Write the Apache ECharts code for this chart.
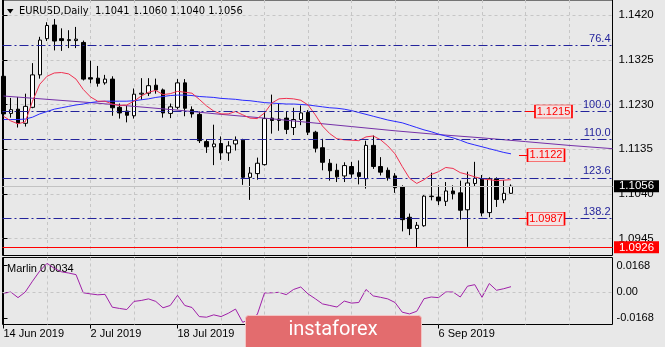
<!DOCTYPE html>
<html>
<head>
<meta charset="utf-8">
<script src="https://cdn.jsdelivr.net/npm/echarts@6/dist/echarts.min.js"></script>
<style>
  html, body { margin: 0; padding: 0; background: #e8e8e8; }
  #chart { width: 665px; height: 347px; }
</style>
</head>
<body>
<div id="chart"></div>
<script>
// ---- EURUSD daily bars, 14 Jun 2019 onwards ----
const symbolName = 'EURUSD,Daily';

const opens = [
  1.1290, 1.1211, 1.1220, 1.1190, 1.1224, 1.1293, 1.1370, 1.1399, 1.1370, 1.1366,
  1.1366, 1.1362, 1.1287, 1.1286, 1.1276, 1.1284, 1.1224, 1.1216, 1.1206, 1.1252,
  1.1254, 1.1271, 1.1261, 1.1211, 1.1224, 1.1276, 1.1219, 1.1209, 1.1151, 1.1140,
  1.1147, 1.1127, 1.1146, 1.1154, 1.1075, 1.1083, 1.1102, 1.1201, 1.1196, 1.1201,
  1.1181, 1.1198, 1.1213, 1.1171, 1.1138, 1.1105, 1.1090, 1.1078, 1.1098, 1.1085,
  1.1072, 1.1143, 1.1098, 1.1090, 1.1078, 1.1055, 1.0990, 1.0966, 1.0972, 1.1034,
  1.1033, 1.1024, 1.1046, 1.1042, 1.1006, 1.1062, 1.1072, 1.1000, 1.1072, 1.1027,
  1.1041
];
const highs = [
  1.1295, 1.1244, 1.1246, 1.1253, 1.1318, 1.1374, 1.1405, 1.1412, 1.1392, 1.1388,
  1.1395, 1.1366, 1.1323, 1.1312, 1.1293, 1.1290, 1.1232, 1.1228, 1.1264, 1.1286,
  1.1286, 1.1285, 1.1264, 1.1232, 1.1284, 1.1284, 1.1226, 1.1215, 1.1156, 1.1187,
  1.1162, 1.1152, 1.1162, 1.1157, 1.1097, 1.1117, 1.1214, 1.1251, 1.1233, 1.1216,
  1.1223, 1.1228, 1.1218, 1.1174, 1.1157, 1.1114, 1.1104, 1.1107, 1.1108, 1.1111,
  1.1153, 1.1164, 1.1118, 1.1096, 1.1084, 1.1058, 1.0998, 1.0980, 1.1037, 1.1085,
  1.1058, 1.1065, 1.1058, 1.1068, 1.1087, 1.1108, 1.1080, 1.1075, 1.1075, 1.1069,
  1.1060
];
const lows = [
  1.1203, 1.1202, 1.1181, 1.1183, 1.1222, 1.1285, 1.1365, 1.1345, 1.1344, 1.1350,
  1.1350, 1.1281, 1.1275, 1.1268, 1.1272, 1.1206, 1.1200, 1.1192, 1.1200, 1.1240,
  1.1248, 1.1253, 1.1202, 1.1201, 1.1220, 1.1205, 1.1202, 1.1148, 1.1127, 1.1101,
  1.1112, 1.1110, 1.1132, 1.1059, 1.1027, 1.1070, 1.1100, 1.1168, 1.1174, 1.1167,
  1.1165, 1.1186, 1.1165, 1.1128, 1.1090, 1.1068, 1.1065, 1.1065, 1.1074, 1.1060,
  1.1051, 1.1093, 1.1079, 1.1068, 1.1042, 1.0960, 1.0952, 1.0926, 1.0970, 1.1026,
  1.1016, 1.1014, 1.1028, 1.0985, 1.0927, 1.1055, 1.0992, 1.0990, 1.1012, 1.1020,
  1.1040
];
const closes = [
  1.1210, 1.1219, 1.1190, 1.1226, 1.1293, 1.1367, 1.1398, 1.1365, 1.1366, 1.1368,
  1.1369, 1.1284, 1.1284, 1.1275, 1.1284, 1.1223, 1.1212, 1.1207, 1.1252, 1.1254,
  1.1270, 1.1261, 1.1212, 1.1225, 1.1276, 1.1222, 1.1210, 1.1153, 1.1140, 1.1146,
  1.1127, 1.1142, 1.1154, 1.1075, 1.1084, 1.1105, 1.1200, 1.1196, 1.1199, 1.1177,
  1.1198, 1.1212, 1.1171, 1.1137, 1.1107, 1.1089, 1.1076, 1.1100, 1.1082, 1.1077,
  1.1143, 1.1098, 1.1086, 1.1074, 1.1053, 1.0985, 1.0966, 1.0973, 1.1035, 1.1035,
  1.1025, 1.1046, 1.1040, 1.1005, 1.1063, 1.1073, 1.0999, 1.1072, 1.1028, 1.1041,
  1.1056
];

// moving averages (red fast, blue medium) per bar
const maFast = [
  1.1205, 1.1195, 1.1189, 1.1193, 1.1237, 1.1273, 1.1290, 1.1297, 1.1298, 1.1295,
  1.1284, 1.1262, 1.1246, 1.1237, 1.1237, 1.1231, 1.1228, 1.1229, 1.1237, 1.1248,
  1.1256, 1.1260, 1.1251, 1.1253, 1.1258, 1.1256, 1.1254, 1.1241, 1.1227, 1.1216,
  1.1210, 1.1210, 1.1215, 1.1208, 1.1201, 1.1200, 1.1212, 1.1233, 1.1242, 1.1243,
  1.1242, 1.1239, 1.1229, 1.1208, 1.1184, 1.1168, 1.1157, 1.1155, 1.1154, 1.1153,
  1.1161, 1.1163, 1.1155, 1.1142, 1.1125, 1.1098, 1.1073, 1.1062, 1.1070, 1.1081,
  1.1087, 1.1096, 1.1094, 1.1085, 1.1081, 1.1076, 1.1072, 1.1070, 1.1068, 1.1069,
  1.1070
];
const maMid = [
  1.1198, 1.1198, 1.1198, 1.1199, 1.1203, 1.1210, 1.1215, 1.1220, 1.1223, 1.1226,
  1.1229, 1.1231, 1.1234, 1.1236, 1.1237, 1.1237, 1.1237, 1.1237, 1.1238, 1.1240,
  1.1242, 1.1245, 1.1247, 1.1249, 1.1250, 1.1250, 1.1249, 1.1247, 1.1246, 1.1245,
  1.1243, 1.1242, 1.1241, 1.1239, 1.1238, 1.1236, 1.1234, 1.1233, 1.1232, 1.1231,
  1.1231, 1.1230, 1.1229, 1.1227, 1.1225, 1.1223, 1.1222, 1.1220, 1.1217, 1.1213,
  1.1209, 1.1205, 1.1201, 1.1197, 1.1194, 1.1191, 1.1186, 1.1181, 1.1176, 1.1172,
  1.1167, 1.1163, 1.1159, 1.1154, 1.1148, 1.1144, 1.1140, 1.1136, 1.1132, 1.1128,
  1.1125
];
// purple slow average, shifted forward past the last bar
const maSlowBars   = [0, 6, 12, 18, 24, 30, 36, 42, 48, 54, 60, 66, 72, 78, 84];
const maSlowValues = [1.1248, 1.1241, 1.1234, 1.1226, 1.1218, 1.1209, 1.1201, 1.1192,
                      1.1183, 1.1174, 1.1166, 1.1159, 1.1151, 1.1143, 1.1136];

// Marlin oscillator
const marlin = [
  -0.0008, 0.0000, -0.0036, 0.0000, 0.0069, 0.0134, 0.0183, 0.0151, 0.0129, 0.0121,
   0.0111, -0.0005, -0.0012, -0.0018, -0.0015, -0.0097, -0.0105, -0.0112, -0.0060, -0.0054,
  -0.0044, -0.0060, -0.0101, -0.0086, -0.0021, -0.0086, -0.0099, -0.0157, -0.0161, -0.0146,
  -0.0157, -0.0136, -0.0109, -0.0194, -0.0170, -0.0144, -0.0006, -0.0005, -0.0002, -0.0017,
   0.0016, 0.0032, -0.0012, -0.0043, -0.0076, -0.0086, -0.0096, -0.0058, -0.0071, -0.0067,
   0.0016, -0.0025, -0.0034, -0.0044, -0.0067, -0.0129, -0.0140, -0.0123, -0.0043, -0.0032,
  -0.0036, 0.0000, 0.0000, -0.0032, 0.0037, 0.0047, -0.0034, 0.0054, 0.0011, 0.0021,
   0.0034
];

// axis labels
const dateLabels    = ['14 Jun 2019', '2 Jul 2019', '18 Jul 2019', '6 Sep 2019'];
const dateLabelBars = [0, 12, 24, 60];
const priceTicks    = [1.0945, 1.1040, 1.1135, 1.1230, 1.1325, 1.1420];
const marlinTicks   = [-0.0168, 0, 0.0168];

// Fibonacci levels and price tags
const fibNames  = ['76.4', '100.0', '110.0', '123.6', '138.2'];
const fibPrices = [1.1356, 1.1215, 1.1155, 1.1074, 1.0987];
const tagPrices = [1.1215, 1.1122, 1.0987];
const supportPrice = 1.0926;

// ---- layout ----
const FONT = '"Liberation Sans", Arial, sans-serif';
const X_MIN = -0.138, X_MAX = 84;
const Y_MAX = 1.14523, Y_MIN = 1.090871;
const M_MAX = 0.022038, M_MIN = -0.02076;
const gridBars = [6, 12, 18, 24, 30, 36, 42, 48, 54, 60, 66, 72, 78];
const gridLine = { color: '#c6c6c6', type: [3, 3], width: 1 };
const fibColor = '#24249c';

const last = closes.length - 1;
const lastClose = closes[last];
const titleText = symbolName + '  ' +
  [opens[last], highs[last], lows[last], closes[last]].map(v => v.toFixed(4)).join(' ');

const candleData = opens.map((o, i) => [i, o, closes[i], lows[i], highs[i]]);

// full-width horizontal level from one price
function level(p, lineStyle, label) {
  return [
    { coord: [X_MIN, p], lineStyle: lineStyle, label: label || { show: false } },
    { coord: [X_MAX, p] }
  ];
}

// tag placement: [lead-in start, lead-in end, box centre] in bar units
const tagSpots = [[71.93, 73.31, 75.86], [71.1, 72.35, 74.83], [71.1, 72.35, 74.83]];
const redSolid = { color: '#ff0000', type: 'solid', width: 1 };

const levelLines = [
  level(lastClose, { color: '#c2c2c2', type: 'solid', width: 1 }),
  ...fibPrices.map((p, k) => level(p,
    { color: fibColor, type: [9, 3, 2, 3], width: 1 },
    { show: true, position: 'insideEndTop', formatter: fibNames[k], color: fibColor,
      fontSize: 11, fontFamily: FONT, distance: [2, 1] })),
  level(supportPrice, redSolid),
  ...tagPrices.map((p, k) => [
    { coord: [tagSpots[k][0], p], lineStyle: redSolid, label: { show: false } },
    { coord: [tagSpots[k][1], p] }
  ])
];

const chart = echarts.init(document.getElementById('chart'), null, { width: 665, height: 347 });

chart.setOption({
  animation: false,
  backgroundColor: '#e8e8e8',
  grid: [
    { left: 2.5, right: 52.5, top: -2, height: 257.5, show: true, borderColor: '#000', borderWidth: 1, backgroundColor: 'transparent' },
    { left: 2.5, right: 52.5, top: 257.5, height: 67, show: true, borderColor: '#000', borderWidth: 1, backgroundColor: 'transparent' }
  ],
  xAxis: [
    {
      type: 'value', gridIndex: 0, min: X_MIN, max: X_MAX,
      axisLine: { show: false }, axisTick: { show: false, customValues: gridBars },
      axisLabel: { show: false }, splitLine: { show: true, lineStyle: gridLine }
    },
    {
      type: 'value', gridIndex: 1, min: X_MIN, max: X_MAX,
      axisLine: { show: false }, axisTick: { show: false, customValues: gridBars },
      axisLabel: { show: false }, splitLine: { show: true, lineStyle: gridLine }
    },
    {
      type: 'value', gridIndex: 1, min: X_MIN, max: X_MAX, position: 'bottom',
      axisLine: { show: false },
      axisTick: { show: true, customValues: dateLabelBars, length: 4, lineStyle: { color: '#000' } },
      axisLabel: {
        customValues: dateLabelBars, align: 'left', margin: 4,
        fontSize: 11, fontFamily: FONT, color: '#000',
        formatter: v => dateLabels[dateLabelBars.indexOf(v)]
      },
      splitLine: { show: false }
    }
  ],
  yAxis: [
    {
      type: 'value', gridIndex: 0, position: 'right', min: Y_MIN, max: Y_MAX,
      axisLine: { show: true, lineStyle: { color: '#000' } },
      axisTick: { show: true, customValues: priceTicks, length: 4, lineStyle: { color: '#000' } },
      axisLabel: {
        customValues: priceTicks, margin: 6, fontSize: 11.5, fontFamily: FONT, color: '#000',
        formatter: v => v.toFixed(4)
      },
      splitLine: { show: true, lineStyle: gridLine }
    },
    {
      type: 'value', gridIndex: 1, position: 'right', min: M_MIN, max: M_MAX,
      axisLine: { show: true, lineStyle: { color: '#000' } },
      axisTick: { show: true, customValues: marlinTicks, length: 4, lineStyle: { color: '#000' } },
      axisLabel: {
        customValues: marlinTicks, margin: 4, fontSize: 11, fontFamily: FONT, color: '#000',
        formatter: v => (v === 0 ? '0.00' : v.toFixed(4))
      },
      splitLine: { show: false }
    }
  ],
  series: [
    {
      type: 'candlestick', xAxisIndex: 0, yAxisIndex: 0,
      data: candleData, encode: { x: 0, y: [1, 2, 3, 4] },
      barWidth: 4,
      itemStyle: { color: '#ffffff', color0: '#000000', borderColor: '#000000', borderColor0: '#000000', borderWidth: 1 },
      z: 2,
      markPoint: {
        silent: true, animation: false,
        data: [
          ...tagPrices.map((p, k) => ({
            coord: [tagSpots[k][2], p], value: p,
            symbol: 'rect', symbolSize: [37, 13],
            itemStyle: { color: '#f2e3e3', borderColor: '#ff0000', borderWidth: 1 },
            label: { show: true, position: 'inside', formatter: p.toFixed(4), color: '#ff0000', fontSize: 11, fontFamily: FONT }
          })),
          {
            coord: [X_MAX, lastClose], value: lastClose,
            symbol: 'rect', symbolSize: [45, 12], symbolOffset: [24, 0],
            itemStyle: { color: '#000000' },
            label: { show: true, position: 'inside', formatter: lastClose.toFixed(4), color: '#ffffff', fontSize: 11.5, fontFamily: FONT }
          },
          {
            coord: [X_MAX, supportPrice], value: supportPrice,
            symbol: 'rect', symbolSize: [45, 12], symbolOffset: [24, 0],
            itemStyle: { color: '#ff0000' },
            label: { show: true, position: 'inside', formatter: supportPrice.toFixed(4), color: '#ffffff', fontSize: 11.5, fontFamily: FONT }
          }
        ]
      }
    },
    {
      type: 'line', xAxisIndex: 0, yAxisIndex: 0, z: 3,
      data: maSlowValues.map((v, k) => [maSlowBars[k], v]),
      showSymbol: false, symbol: 'none', lineStyle: { color: '#7530a8', width: 1 },
      markLine: { silent: true, symbol: ['none', 'none'], animation: false, data: levelLines }
    },
    {
      type: 'line', xAxisIndex: 0, yAxisIndex: 0, z: 3,
      data: maMid.map((v, i) => [i, v]),
      showSymbol: false, symbol: 'none', lineStyle: { color: '#2a2aff', width: 1 }
    },
    {
      type: 'line', xAxisIndex: 0, yAxisIndex: 0, z: 3,
      data: maFast.map((v, i) => [i, v]),
      showSymbol: false, symbol: 'none', lineStyle: { color: '#f03050', width: 1 }
    },
    {
      type: 'line', xAxisIndex: 1, yAxisIndex: 1, z: 3,
      data: marlin.map((v, i) => [i, v]),
      showSymbol: false, symbol: 'none', lineStyle: { color: '#a020a8', width: 1 },
      markLine: {
        silent: true, symbol: ['none', 'none'], animation: false,
        data: [[
          { coord: [X_MIN, 0], lineStyle: { color: '#c6c6c6', type: [3, 3], width: 1 }, label: { show: false } },
          { coord: [X_MAX, 0] }
        ]]
      }
    }
  ],
  graphic: [
    { type: 'polygon', shape: { points: [[7, 9], [13.5, 9], [10.25, 13.5]] }, style: { fill: '#000' } },
    {
      type: 'text', x: 19, y: 11,
      style: { text: titleText, font: '11px "DejaVu Sans Condensed", "Liberation Sans", sans-serif', fill: '#000', verticalAlign: 'middle' }
    },
    {
      type: 'text', x: 7, y: 268.5,
      style: { text: 'Marlin ' + marlin[marlin.length - 1].toFixed(4), font: '11px ' + FONT, fill: '#000', verticalAlign: 'middle' }
    },
    {
      type: 'rect', z: 100,
      shape: { x: 245.5, y: 315.5, width: 176, height: 40, r: 3 },
      style: { fill: '#e36c6e', stroke: '#f3c4c4', lineWidth: 1 }
    },
    {
      type: 'text', z: 101, x: 333, y: 330,
      style: { text: 'instaforex', font: '20px Roboto, "Open Sans", sans-serif', fill: '#ffffff', align: 'center', verticalAlign: 'middle' }
    }
  ]
});
</script>
</body>
</html>
